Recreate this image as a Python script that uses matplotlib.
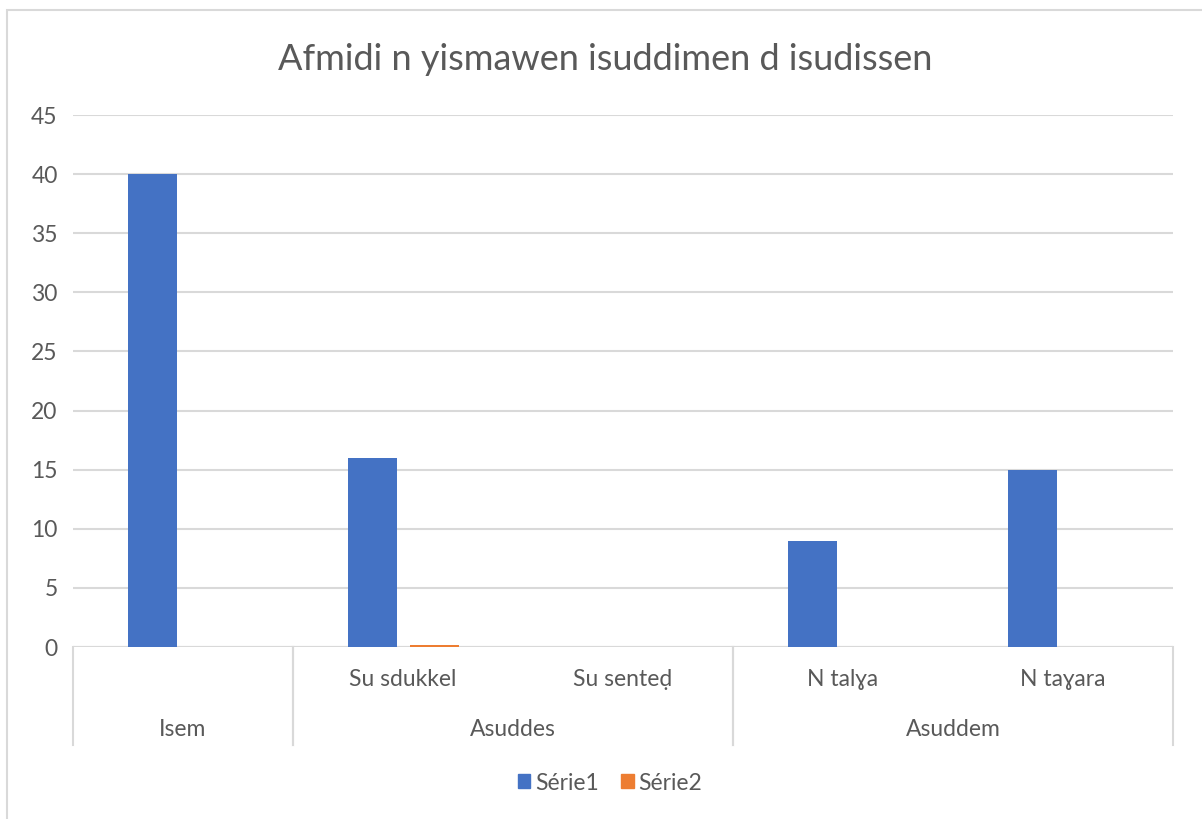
import matplotlib
matplotlib.use("Agg")
import matplotlib.pyplot as plt
import matplotlib.transforms as mtransforms
from matplotlib.patches import Rectangle
from matplotlib.lines import Line2D
import numpy as np

plt.rcParams['font.family'] = ['Lato', 'DejaVu Sans']

title = "Afmidi n yismawen isuddimen d isudissen"
categories = ["", "Su sdukkel", "Su senteḍ", "N talɣa", "N taɣara"]
groups = ["Isem", "Asuddes", "Asuddem"]
group_spans = [(0, 0), (1, 2), (3, 4)]
serie1 = [40, 16, 0, 9, 15]
serie2 = [0, 0.2, 0, 0, 0]
series_names = ["Série1", "Série2"]
yticks = [0, 5, 10, 15, 20, 25, 30, 35, 40, 45]

blue = "#4472C4"
orange = "#ED7D31"
txt = "#595959"
grid = "#D9D9D9"
fs = 16.5

W, H = 1202, 819
fig = plt.figure(figsize=(W / 100, H / 100), dpi=100)

# outer border of chart area
fig.patches.append(Rectangle((7 / W, -0.1), 1.2, 1 - 10 / H + 0.1, transform=fig.transFigure,
                             fill=False, edgecolor=grid, lw=1.5))

left, right, top, bottom = 73, 1173, 115, 647
ax = fig.add_axes([left / W, 1 - bottom / H, (right - left) / W, (bottom - top) / H])

x = np.arange(len(categories))
bw = 0.222
ax.bar(x - 0.138, serie1, width=bw, color=blue, label=series_names[0], zorder=3)
ax.bar(x + 0.145, serie2, width=bw, color=orange, label=series_names[1], zorder=3)

ax.set_xlim(-0.5, len(categories) - 0.5)
ax.set_ylim(0, 45)
ax.set_yticks(yticks)
ax.set_yticklabels([str(v) for v in yticks], color=txt, fontsize=fs)
ax.tick_params(axis='y', length=0, pad=11)
ax.set_xticks([])
for s in ax.spines.values():
    s.set_visible(False)
ax.yaxis.grid(True, color=grid, lw=1.5, zorder=0)
ax.set_axisbelow(True)
ax.axhline(0, color=grid, lw=1.5, zorder=2)

trans = mtransforms.blended_transform_factory(ax.transData, ax.transAxes)
sep_bottom = (bottom - 745) / (bottom - top)
for g, (a, b) in zip(groups, group_spans):
    for xb in (a - 0.5, b + 0.5):
        ax.add_line(Line2D([xb, xb], [0, sep_bottom], transform=trans, color=grid, lw=1.5, clip_on=False))
    ax.text((a + b) / 2, (bottom - 729) / (bottom - top), g, transform=trans, ha='center', va='center',
            color=txt, fontsize=fs)
for i, c in enumerate(categories):
    if c:
        ax.text(i, (bottom - 680) / (bottom - top), c, transform=trans, ha='center', va='center',
                color=txt, fontsize=fs)

fig.text(605 / W, 1 - 60 / H, title, ha='center', va='center', color=txt, fontsize=26)

handles = [Rectangle((0, 0), 1, 1, color=blue), Rectangle((0, 0), 1, 1, color=orange)]
fig.legend(handles, series_names, loc='center', bbox_to_anchor=(610 / W, 1 - 783 / H), ncol=2,
           frameon=False, fontsize=fs, labelcolor=txt, handlelength=0.55, handleheight=0.55,
           handletextpad=0.2, columnspacing=1.0)

fig.savefig("out.png", dpi=100)
